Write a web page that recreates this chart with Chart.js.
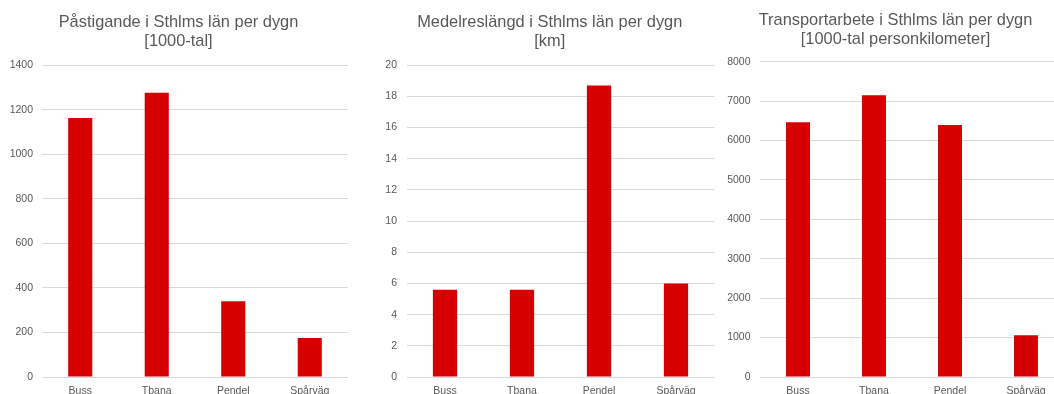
<!DOCTYPE html>
<html>
<head>
<meta charset="utf-8">
<script src="https://cdn.jsdelivr.net/npm/chart.js@4/dist/chart.umd.min.js"></script>
<style>
  html, body { margin: 0; padding: 0; background: #fff; width: 1054px; height: 394px; overflow: hidden; position: relative; }
  .box { position: absolute; top: 0; }
</style>
</head>
<body>
<div class="box" id="b1" style="left:0px;width:364px;height:407px"><canvas id="c1"></canvas></div>
<div class="box" id="b2" style="left:360px;width:385px;height:407px"><canvas id="c2"></canvas></div>
<div class="box" id="b3" style="left:712px;width:372px;height:407px"><canvas id="c3"></canvas></div>
<script>
const categories = ["Buss", "Tbana", "Pendel", "Spårväg"];

const pastigandeValues = [1163, 1277, 340, 175];
const medelreslangdValues = [5.6, 5.6, 18.7, 6.0];
const transportarbeteValues = [6460, 7150, 6390, 1060];

const title1 = ["Påstigande i Sthlms län per dygn", "[1000-tal]"];
const title2 = ["Medelreslängd i Sthlms län per dygn", "[km]"];
const title3 = ["Transportarbete i Sthlms län per dygn", "[1000-tal personkilometer]"];

const yMax1 = 1400, yStep1 = 200;
const yMax2 = 20, yStep2 = 2;
const yMax3 = 8000, yStep3 = 1000;

const barColor = "#d70000";
const textColor = "#595959";
const gridColor = "#d9d9d9";
const fontFamily = "Arial, 'Liberation Sans', sans-serif";

function makeChart(id, titleLines, values, yMax, yStep, o) {
  return new Chart(document.getElementById(id), {
    type: "bar",
    data: {
      labels: categories,
      datasets: [{
        data: values,
        backgroundColor: barColor,
        borderWidth: 0,
        categoryPercentage: 1,
        barPercentage: 0.315
      }]
    },
    options: {
      responsive: true,
      maintainAspectRatio: false,
      animation: false,
      devicePixelRatio: 1,
      layout: { padding: { top: o.padTop, left: o.padLeft, right: o.padRight, bottom: 0 } },
      plugins: {
        legend: { display: false },
        tooltip: { enabled: false },
        title: {
          display: true,
          text: titleLines,
          color: textColor,
          font: { family: fontFamily, size: 16.4, weight: "normal", lineHeight: 1.12 },
          padding: { top: 0, bottom: o.titleBottom }
        }
      },
      scales: {
        x: {
          grid: { display: false, drawTicks: false },
          border: { display: false },
          ticks: { color: textColor, font: { family: fontFamily, size: 10.5 }, padding: 8, maxRotation: 0, autoSkip: false },
          afterFit: (a) => { a.height = 30; }
        },
        y: {
          min: 0,
          max: yMax,
          grid: { color: gridColor, lineWidth: 1, drawTicks: false },
          border: { display: false },
          ticks: {
            stepSize: yStep, color: textColor, font: { family: fontFamily, size: 10.5 }, padding: o.tickPad,
            callback: (v) => String(v)
          },
          afterFit: (a) => { a.width = o.axisWidth; }
        }
      }
    }
  });
}

makeChart("c1", title1, pastigandeValues, yMax1, yStep1,
  { padTop: 13.5, padLeft: 9, padRight: 16, titleBottom: 15, axisWidth: 33, tickPad: 9 });
makeChart("c2", title2, medelreslangdValues, yMax2, yStep2,
  { padTop: 13.5, padLeft: 25, padRight: 30.5, titleBottom: 15, axisWidth: 21.5, tickPad: 9.5 });
makeChart("c3", title3, transportarbeteValues, yMax3, yStep3,
  { padTop: 11.5, padLeft: 15, padRight: 20, titleBottom: 13.4, axisWidth: 33, tickPad: 9.5 });
</script>
</body>
</html>
